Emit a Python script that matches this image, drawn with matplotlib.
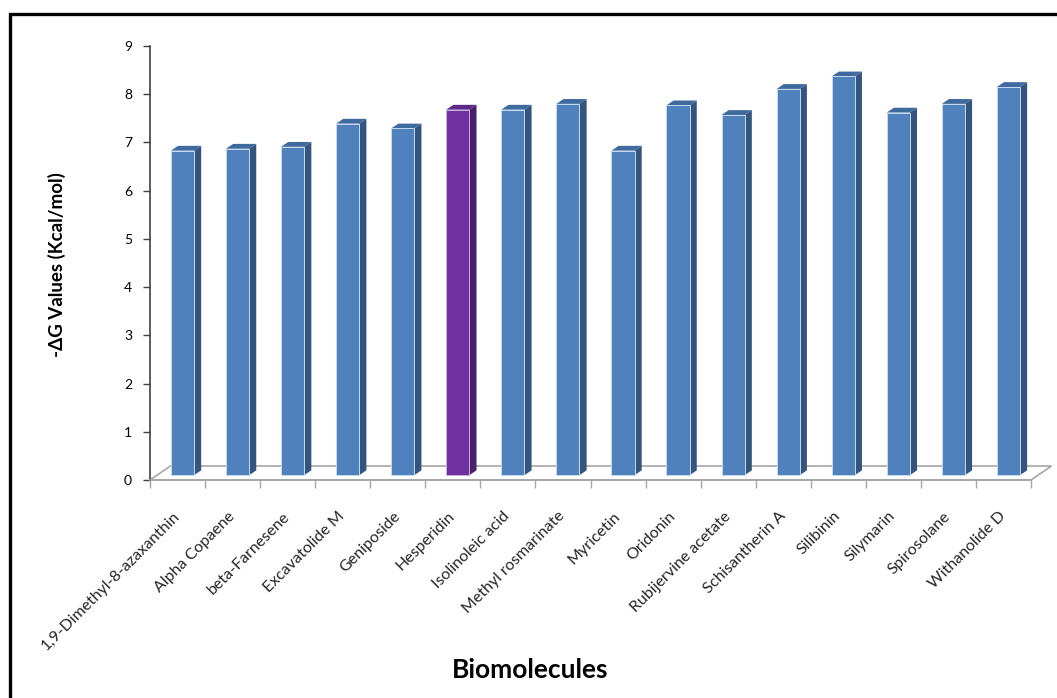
import numpy as np
import matplotlib.pyplot as plt
from matplotlib.patches import Polygon, Rectangle
from matplotlib.transforms import ScaledTranslation

# docking scores of the screened biomolecules
molecules = ['1,9-Dimethyl-8-azaxanthin', 'Alpha Copaene', 'beta-Farnesene',
             'Excavatolide M', 'Geniposide', 'Hesperidin', 'Isolinoleic acid',
             'Methyl rosmarinate', 'Myricetin', 'Oridonin', 'Rubijervine acetate',
             'Schisantherin A', 'Silibinin', 'Silymarin', 'Spirosolane',
             'Withanolide D']
dg_values = [6.83, 6.87, 6.91, 7.39, 7.29, 7.68, 7.68, 7.80, 6.83, 7.77,
             7.57, 8.11, 8.37, 7.62, 7.80, 8.15]
highlight = 'Hesperidin'

plt.rcParams['font.family'] = ['Lato', 'DejaVu Sans']

fig = plt.figure(figsize=(10.57, 6.98), dpi=100)
W, H = 1057, 698
ax = fig.add_axes([150 / W, 1 - 480 / H, 881 / W, 434 / H])

n = len(molecules)
ax.set_xlim(0, n)
ax.set_ylim(0, 9)

# fake 3D look: depth offset of the bars and of the floor
bw = 0.42
shift = 0.09
dx, dy = 0.13, 0.10
base = 0.10
fdx, fdy = 0.37, 0.29

# floor
floor = Polygon([(0, 0), (n, 0), (n + fdx, fdy), (fdx, fdy)], closed=True,
                facecolor='white', edgecolor='#A6A6A6', lw=1.2, clip_on=False, zorder=1)
ax.add_patch(floor)

for i, (name, v) in enumerate(zip(molecules, dg_values)):
    if name == highlight:
        front, side, top = '#7030A0', '#4A1F6C', '#5E2888'
        edge = '#C9B0DD'
    else:
        front, side, top = '#4F81BD', '#34557E', '#3F6A9E'
        edge = '#C6D9F1'
    x0 = i + 0.5 - bw / 2 + shift
    x1 = x0 + bw
    ax.bar(x0, v - base, width=bw, bottom=base, align='edge', color=front,
           edgecolor=edge, lw=0.7, zorder=3)
    ax.add_patch(Polygon([(x1, base), (x1 + dx, base + dy), (x1 + dx, v + dy), (x1, v)],
                         closed=True, facecolor=side, edgecolor='none', zorder=2))
    ax.add_patch(Polygon([(x0, v), (x1, v), (x1 + dx, v + dy), (x0 + dx, v + dy)],
                         closed=True, facecolor=top, edgecolor='none', zorder=2))

# axes styling
for s in ['top', 'right']:
    ax.spines[s].set_visible(False)
ax.spines['left'].set_color('#404040')
ax.spines['left'].set_linewidth(1.2)
ax.spines['bottom'].set_color('#A6A6A6')
ax.spines['bottom'].set_linewidth(1.2)

ax.set_yticks(range(10))
ax.tick_params(axis='y', direction='out', length=5, width=1, color='#404040',
               labelsize=10, pad=8)

ax.set_xticks(np.arange(n) + 0.5)
ax.set_xticks(np.arange(n + 1), minor=True)
ax.set_xticklabels(molecules, rotation=45, ha='right', va='top',
                   rotation_mode='anchor', fontsize=11.5, color='#262626')
ax.tick_params(axis='x', which='major', length=0, pad=21)
ax.tick_params(axis='x', which='minor', length=6, width=1, color='#A6A6A6')
# nudge the slanted labels a little to the left
for lbl in ax.get_xticklabels():
    lbl.set_transform(lbl.get_transform() + ScaledTranslation(-0.05, 0, fig.dpi_scale_trans))

fig.text(57 / W, 1 - 265 / H, '-ΔG Values (Kcal/mol)', rotation=90,
         ha='center', va='center', fontsize=13.5, fontweight='bold')
fig.text(530 / W, 1 - 670 / H, 'Biomolecules', ha='center', va='center',
         fontsize=19, fontweight='bold')

# chart border
fig.patches.append(Rectangle((10 / W, 0 - 0.05), 1.1, 1 - 14 / H + 0.05,
                             transform=fig.transFigure, fill=False,
                             edgecolor='black', lw=2.4))

fig.savefig('out.png', dpi=100)
